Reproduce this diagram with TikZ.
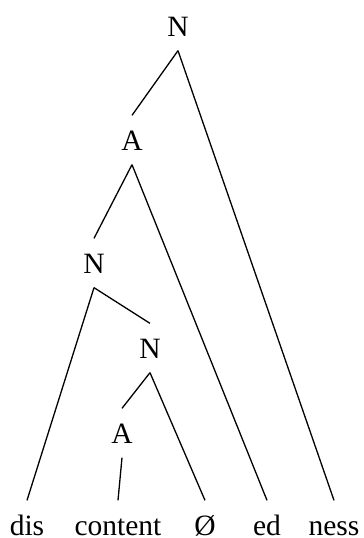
\documentclass[tikz,border=0pt]{standalone}
\usepackage{fontspec}
\setmainfont{Liberation Serif}
\usepackage{tikz}
\usetikzlibrary{positioning}

\begin{document}
\begin{tikzpicture}[x=1pt, y=-1pt, line width=1.3pt,
        lbl/.style={anchor=base, inner xsep=2pt, inner ysep=14pt,
            text height=20pt, text depth=0pt,
            font=\fontsize{29.5}{35}\selectfont},
        word/.style={lbl, inner ysep=1pt, text height=33pt}]
            \useasboundingbox (0,0) rectangle (364,538);
            % 1. Các nút
            \node[lbl] (n1) at (178,36) {N};
            \node[lbl] (a2) at (132,150) {A};
            \node[lbl] (n3) at (94,273) {N};
            \node[lbl] (n4) at (150,358) {N};
            \node[lbl] (a5) at (122,443) {A};
            
            % 2. Các hình vị
            \node[word] (dis) at (27,535) {dis};
            \node[word] (content) at (118,535) {content};
            \node[word] (zero) at (205,535) {Ø};
            \node[word] (ed) at (267,535) {ed};
            \node[word] (ness) at (334,535) {ness};
            
            % 3. Các nhánh
            \draw (n1.south) -- (a2.north);
            \draw (n1.south) -- (ness.north);
            \draw (a2.south) -- (n3.north);
            \draw (a2.south) -- (ed.north);
            \draw (n3.south) -- (dis.north);
            \draw (n3.south) -- (n4.north);
            \draw (n4.south) -- (a5.north);
            \draw (n4.south) -- (zero.north);
            \draw (a5.south) -- (content.north);
        \end{tikzpicture}
\end{document}
